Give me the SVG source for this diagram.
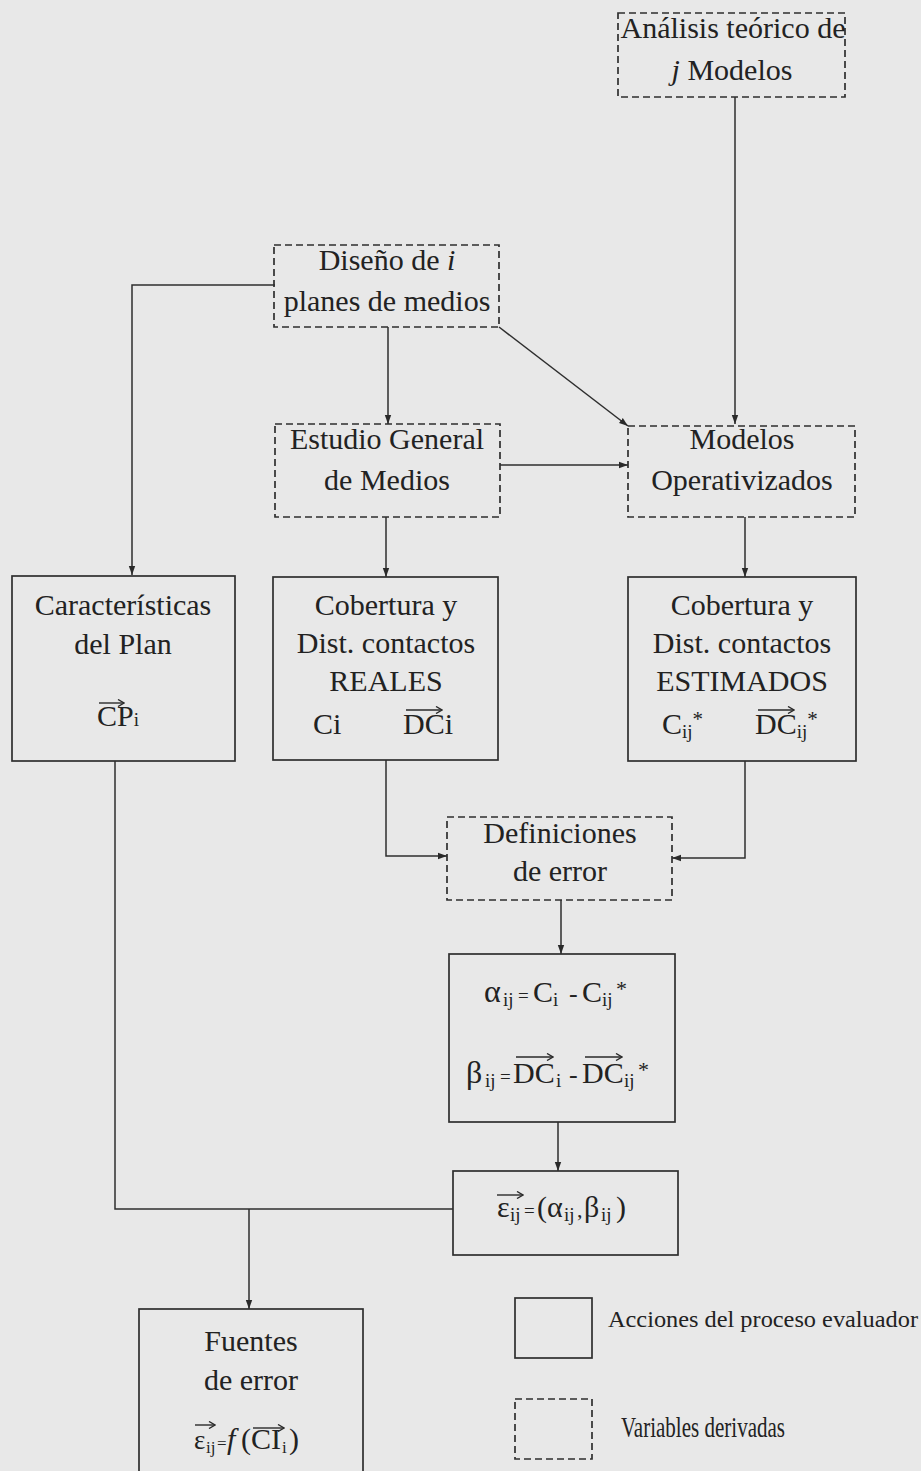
<svg xmlns="http://www.w3.org/2000/svg" width="921" height="1471" viewBox="0 0 921 1471">
<defs>
<marker id="ah" markerUnits="userSpaceOnUse" markerWidth="10" markerHeight="8" refX="9" refY="4" orient="auto"><path d="M0,0.8 L9,4 L0,7.2 z" fill="#2a2a2a"/></marker>
<marker id="va" markerUnits="userSpaceOnUse" markerWidth="8" markerHeight="8" refX="7" refY="4" orient="auto"><path d="M1,0.5 L7,4 L1,7.5" fill="none" stroke="#2a2a2a" stroke-width="1.4"/></marker>
</defs>
<style>
.bg{fill:#e8e8e8}
.solid{fill:none;stroke:#2e2e2e;stroke-width:1.7}
.dash{fill:none;stroke:#2e2e2e;stroke-width:1.7;stroke-dasharray:7 4}
.con{fill:none;stroke:#2e2e2e;stroke-width:1.5}
.arr{marker-end:url(#ah)}
.vec{fill:none;stroke:#2a2a2a;stroke-width:1.4;marker-end:url(#va)}
text{font-family:"Liberation Serif","Times New Roman",serif;fill:#222;font-size:30px}
.c{text-anchor:middle}
.s{font-size:19px}
.lg{font-size:23px}
</style>
<rect class="bg" x="0" y="0" width="921" height="1471"/>

<g id="connectors">
<path class="con arr" d="M735,97 L735,424"/>
<path class="con arr" d="M275,285 L132,285 L132,575"/>
<path class="con arr" d="M388,327 L388,424"/>
<path class="con arr" d="M499,327 L628,426"/>
<path class="con arr" d="M500,465 L628,465"/>
<path class="con arr" d="M386,517 L386,577"/>
<path class="con arr" d="M745,517 L745,577"/>
<path class="con arr" d="M386,760 L386,856 L447,856"/>
<path class="con arr" d="M745,761 L745,858 L672,858"/>
<path class="con arr" d="M561,900 L561,954"/>
<path class="con arr" d="M558,1122 L558,1171"/>
<path class="con" d="M115,761 L115,1209 L453,1209"/>
<path class="con arr" d="M249,1209 L249,1309"/>
</g>

<g id="analisis">
<rect class="dash" x="618" y="13" width="227" height="84"/>
<text class="c" x="733" y="38">Análisis teórico de</text>
<text class="c" x="732" y="80"><tspan font-style="italic">j</tspan> Modelos</text>
</g>

<g id="diseno">
<rect class="dash" x="274" y="245" width="225" height="82"/>
<text class="c" x="387" y="270">Diseño de <tspan font-style="italic">i</tspan></text>
<text class="c" x="387" y="311">planes de medios</text>
</g>

<g id="estudio">
<rect class="dash" x="275" y="424" width="225" height="93"/>
<text class="c" x="387" y="449">Estudio General</text>
<text class="c" x="387" y="490">de Medios</text>
</g>

<g id="modelos">
<rect class="dash" x="628" y="426" width="227" height="91"/>
<text class="c" x="742" y="449">Modelos</text>
<text class="c" x="742" y="490">Operativizados</text>
</g>

<g id="caracteristicas">
<rect class="solid" x="12" y="576" width="223" height="185"/>
<text class="c" x="123" y="615">Características</text>
<text class="c" x="123" y="654">del Plan</text>
<text x="97" y="726">CP<tspan class="s">i</tspan></text>
<path class="vec" d="M99,703 L124,703"/>
</g>

<g id="reales">
<rect class="solid" x="273" y="577" width="225" height="183"/>
<text class="c" x="386" y="615">Cobertura y</text>
<text class="c" x="386" y="653">Dist. contactos</text>
<text class="c" x="386" y="691">REALES</text>
<text x="313" y="734">Ci</text>
<text x="403" y="734">DCi</text>
<path class="vec" d="M406,710 L442,710"/>
</g>

<g id="estimados">
<rect class="solid" x="628" y="577" width="228" height="184"/>
<text class="c" x="742" y="615">Cobertura y</text>
<text class="c" x="742" y="653">Dist. contactos</text>
<text class="c" x="742" y="691">ESTIMADOS</text>
<text x="662" y="734">C<tspan class="s" dy="4">ij</tspan><tspan font-size="21" dy="-12">*</tspan></text>
<text x="755" y="734">DC<tspan class="s" dy="4">ij</tspan><tspan font-size="21" dy="-12">*</tspan></text>
<path class="vec" d="M758,710 L794,710"/>
</g>

<g id="definiciones">
<rect class="dash" x="447" y="817" width="225" height="83"/>
<text class="c" x="560" y="843">Definiciones</text>
<text class="c" x="560" y="881">de error</text>
</g>

<g id="alphabeta">
<rect class="solid" x="449" y="954" width="226" height="168"/>
<text y="1002"><tspan font-size="32" x="484">α</tspan><tspan class="s" x="503" y="1006">ij</tspan><tspan class="s" x="518" y="1002">=</tspan><tspan x="533" y="1002">C</tspan><tspan class="s" x="553" y="1006">i</tspan><tspan font-size="26" x="569" y="1002">-</tspan><tspan x="582" y="1002">C</tspan><tspan class="s" x="602" y="1006">ij</tspan><tspan font-size="22" x="616" y="996">*</tspan></text>
<text y="1083"><tspan font-size="32" x="466">β</tspan><tspan class="s" x="485" y="1087">ij</tspan><tspan class="s" x="500" y="1083">=</tspan><tspan x="513" y="1083">DC</tspan><tspan class="s" x="556" y="1087">i</tspan><tspan font-size="26" x="569" y="1083">-</tspan><tspan x="582" y="1083">DC</tspan><tspan class="s" x="624" y="1087">ij</tspan><tspan font-size="22" x="638" y="1077">*</tspan></text>
<path class="vec" d="M516,1057 L553,1057"/>
<path class="vec" d="M585,1057 L622,1057"/>
</g>

<g id="epsilon">
<rect class="solid" x="453" y="1171" width="225" height="84"/>
<text y="1217"><tspan x="497">ε</tspan><tspan class="s" x="510" y="1221">ij</tspan><tspan class="s" x="524" y="1217">=</tspan><tspan x="537" y="1217">(</tspan><tspan x="547" y="1217">α</tspan><tspan class="s" x="564" y="1221">ij</tspan><tspan font-size="22" x="577" y="1217">,</tspan><tspan x="584" y="1217">β</tspan><tspan class="s" x="601" y="1221">ij</tspan><tspan x="616" y="1217">)</tspan></text>
<path class="vec" d="M497,1195 L523,1195"/>
</g>

<g id="fuentes">
<rect class="solid" x="139" y="1309" width="224" height="175"/>
<text class="c" x="251" y="1351">Fuentes</text>
<text class="c" x="251" y="1390">de error</text>
<text y="1449"><tspan font-size="27" x="194">ε</tspan><tspan font-size="17" x="206" y="1453">ij</tspan><tspan font-size="17" x="217" y="1449">=</tspan><tspan font-style="italic" x="227" y="1449">f</tspan><tspan x="241" y="1449">(</tspan><tspan x="251" y="1449">CI</tspan><tspan font-size="17" x="282" y="1453">i</tspan><tspan x="289" y="1449">)</tspan></text>
<path class="vec" d="M195,1425 L215,1425"/>
<path class="vec" d="M253,1428 L284,1428"/>
</g>

<g id="legend">
<rect class="solid" x="515" y="1298" width="77" height="60"/>
<text class="lg" x="608" y="1327" textLength="310" lengthAdjust="spacingAndGlyphs">Acciones del proceso evaluador</text>
<rect class="dash" x="515" y="1399" width="77" height="60"/>
<text x="621" y="1437" font-size="22" textLength="164" lengthAdjust="spacingAndGlyphs">Variables derivadas</text>
</g>
</svg>
